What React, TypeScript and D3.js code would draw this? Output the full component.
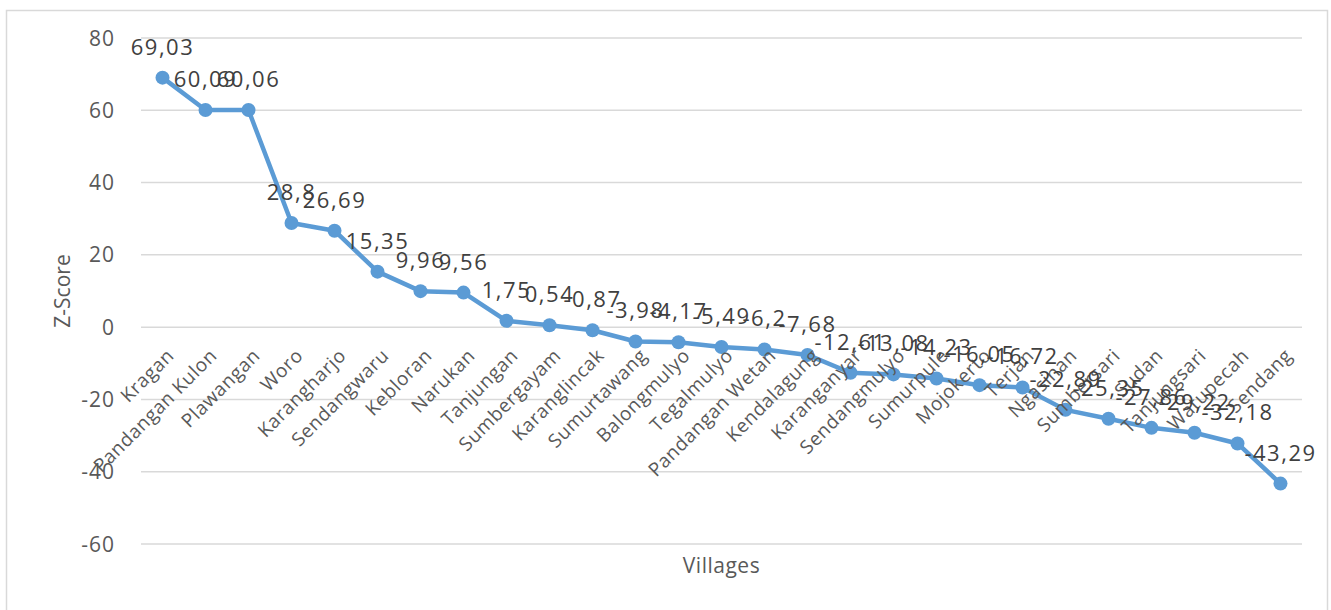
import React, { useRef, useEffect } from 'react';
import * as d3 from 'd3';

const villages = [
  'Kragan', 'Pandangan Kulon', 'Plawangan', 'Woro', 'Karangharjo', 'Sendangwaru',
  'Kebloran', 'Narukan', 'Tanjungan', 'Sumbergayam', 'Karanglincak', 'Sumurtawang',
  'Balongmulyo', 'Tegalmulyo', 'Pandangan Wetan', 'Kendalagung', 'Karanganyar',
  'Sendangmulyo', 'Sumurpule', 'Mojokerto', 'Terjan', 'Ngasinan', 'Sumbersari',
  'Sudan', 'Tanjungsari', 'Watupecah', 'Sendang',
];

const zScores = [
  69.03, 60.09, 60.06, 28.8, 26.69, 15.35, 9.96, 9.56, 1.75, 0.54, -0.87, -3.98,
  -4.17, -5.49, -6.2, -7.68, -12.61, -13.08, -14.23, -16.05, -16.72, -22.89,
  -25.35, -27.86, -29.22, -32.18, -43.29,
];

const yTicks = [-60, -40, -20, 0, 20, 40, 60, 80];

const FONT = '"Open Sans", sans-serif';

const App = () => {
  const svgRef = useRef(null);

  useEffect(() => {
    const width = 1331;
    const height = 610;
    const margin = { top: 38, right: 29, bottom: 66, left: 141 };
    const innerWidth = width - margin.left - margin.right;
    const innerHeight = height - margin.top - margin.bottom;

    d3.select(svgRef.current).selectAll('*').remove();

    const root = d3.select(svgRef.current)
      .attr('width', width)
      .attr('height', height);

    // chart frame (bottom edge runs off the picture)
    root.append('rect')
      .attr('x', 6.5)
      .attr('y', 10.5)
      .attr('width', 1321)
      .attr('height', 610)
      .attr('fill', '#fff')
      .attr('stroke', '#d9d9d9')
      .attr('stroke-width', 1.5);

    const svg = root.append('g')
      .attr('transform', `translate(${margin.left}, ${margin.top})`);

    const x = d3.scaleBand()
      .domain(villages)
      .range([0, innerWidth])
      .padding(0);

    const y = d3.scaleLinear()
      .domain([-60, 80])
      .range([innerHeight, 0]);

    const cx = (i) => x(villages[i]) + x.bandwidth() / 2;

    // gridlines
    svg.selectAll('.grid')
      .data(yTicks)
      .enter()
      .append('line')
      .attr('x1', 0)
      .attr('x2', innerWidth)
      .attr('y1', d => y(d))
      .attr('y2', d => y(d))
      .attr('stroke', '#d9d9d9')
      .attr('stroke-width', 1.5);

    // y tick labels
    svg.selectAll('.ytick')
      .data(yTicks)
      .enter()
      .append('text')
      .attr('x', -26)
      .attr('y', d => y(d))
      .attr('dy', '0.36em')
      .attr('text-anchor', 'end')
      .attr('font-family', FONT)
      .attr('font-size', 21)
      .attr('letter-spacing', 1)
      .attr('fill', '#595959')
      .text(d => d);

    // line + markers
    const line = d3.line()
      .x((d, i) => cx(i))
      .y(d => y(d));

    svg.append('path')
      .datum(zScores)
      .attr('d', line)
      .attr('fill', 'none')
      .attr('stroke', '#5b9bd5')
      .attr('stroke-width', 4.5)
      .attr('stroke-linejoin', 'round');

    svg.selectAll('.dot')
      .data(zScores)
      .enter()
      .append('circle')
      .attr('cx', (d, i) => cx(i))
      .attr('cy', d => y(d))
      .attr('r', 7)
      .attr('fill', '#5b9bd5');

    // category labels, rotated
    svg.selectAll('.xlabel')
      .data(villages)
      .enter()
      .append('text')
      .attr('transform', d => `translate(${x(d) + x.bandwidth() / 2 + 8}, ${y(0) + 25}) rotate(-45)`)
      .attr('text-anchor', 'end')
      .attr('dy', '0.35em')
      .attr('font-family', FONT)
      .attr('font-size', 19)
      .attr('letter-spacing', 0.6)
      .attr('fill', '#595959')
      .text(d => d);

    // data labels
    svg.selectAll('.dlabel')
      .data(zScores)
      .enter()
      .append('text')
      .attr('x', (d, i) => cx(i))
      .attr('y', d => y(d) - 31)
      .attr('dy', '0.36em')
      .attr('text-anchor', 'middle')
      .attr('font-family', FONT)
      .attr('font-size', 22)
      .attr('letter-spacing', 1.5)
      .attr('fill', '#404040')
      .text(d => String(d).replace('.', ','));

    // axis titles
    root.append('text')
      .attr('transform', `translate(70, ${margin.top + innerHeight / 2}) rotate(-90)`)
      .attr('text-anchor', 'middle')
      .attr('font-family', FONT)
      .attr('font-size', 21)
      .attr('fill', '#595959')
      .text('Z-Score');

    root.append('text')
      .attr('x', margin.left + innerWidth / 2)
      .attr('y', 573)
      .attr('text-anchor', 'middle')
      .attr('font-family', FONT)
      .attr('font-size', 21)
      .attr('letter-spacing', 0.5)
      .attr('fill', '#595959')
      .text('Villages');
  }, []);

  return (
    <div style={{ position: 'absolute', left: 0, top: 0 }}>
      <svg ref={svgRef} style={{ display: 'block' }}></svg>
    </div>
  );
};

export default App;
